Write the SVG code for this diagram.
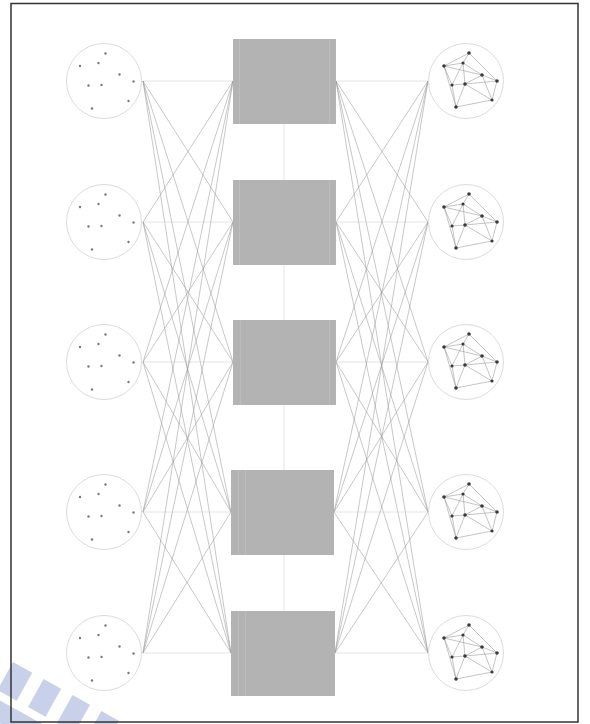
<svg xmlns="http://www.w3.org/2000/svg" width="590" height="724" viewBox="0 0 590 724">
<style>
.ring{fill:none;stroke:#dcdcdc;stroke-width:1}
.ld{fill:#7a7a7a}
.rd{fill:#3a3a3a}
.ge{stroke:#8a8a8a;stroke-width:0.5;fill:none}
.box{fill:#b3b3b3}
.stripe{fill:#bcbcbc}
.conn line{stroke:#9a9a9a;stroke-width:0.55}
.conn line.h{stroke:#cfcfcf}
.wm{fill:#c9d1ea}
</style>
<defs>
<g id="ldots">
<circle class="ld" cx="1.5" cy="-27.5" r="1.2"/>
<circle class="ld" cx="-24" cy="-15" r="1.2"/>
<circle class="ld" cx="-5.5" cy="-18" r="1.2"/>
<circle class="ld" cx="15.5" cy="-6.5" r="1.2"/>
<circle class="ld" cx="29.5" cy="0.5" r="1.2"/>
<circle class="ld" cx="-15.5" cy="4.5" r="1.2"/>
<circle class="ld" cx="-2.5" cy="4" r="1.2"/>
<circle class="ld" cx="24.5" cy="20" r="1.2"/>
<circle class="ld" cx="-12" cy="27.5" r="1.2"/>
</g>
<g id="rgraph">
<path class="ge" d="M3,-28L-22,-15M3,-28L-3,-18M3,-28L31,0M-22,-15L-3,-18M-22,-15L16,-6M-22,-15L-14,4M-22,-15L-10,26M-3,-18L16,-6M-3,-18L-14,4M-3,-18L-1,3M16,-6L31,0M16,-6L-1,3M16,-6L26,19M31,0L-1,3M31,0L26,19M-14,4L-1,3M-14,4L-10,26M-1,3L26,19M-1,3L-10,26M26,19L-10,26"/>
<circle class="rd" cx="3" cy="-28" r="1.8"/>
<circle class="rd" cx="-22" cy="-15" r="1.8"/>
<circle class="rd" cx="-3" cy="-18" r="1.6"/>
<circle class="rd" cx="16" cy="-6" r="1.8"/>
<circle class="rd" cx="31" cy="0" r="1.8"/>
<circle class="rd" cx="-14" cy="4" r="1.6"/>
<circle class="rd" cx="-1" cy="3" r="1.8"/>
<circle class="rd" cx="26" cy="19" r="1.6"/>
<circle class="rd" cx="-10" cy="26" r="1.8"/>
</g>
</defs>
<rect x="0" y="0" width="590" height="724" fill="#ffffff"/>
<g id="watermark" transform="translate(13,662) rotate(29)">
<rect class="wm" x="-38" y="0" width="22" height="32"/>
<rect class="wm" x="0" y="0" width="22" height="32"/>
<rect class="wm" x="35" y="0" width="20" height="32"/>
<rect class="wm" x="68" y="0" width="20" height="32"/>
<rect class="wm" x="101" y="0" width="20" height="32"/>
<rect class="wm" x="-60" y="40" width="200" height="20"/>
</g>
<g id="connectors" class="conn">
<line x1="284" y1="124" x2="284" y2="611" class="h"/>
<line x1="143" y1="81" x2="233" y2="81" class="h"/>
<line x1="143" y1="81" x2="233" y2="222"/>
<line x1="143" y1="81" x2="233" y2="362"/>
<line x1="143" y1="81" x2="231" y2="512"/>
<line x1="143" y1="81" x2="231" y2="653"/>
<line x1="143" y1="222" x2="233" y2="81"/>
<line x1="143" y1="222" x2="233" y2="222" class="h"/>
<line x1="143" y1="222" x2="233" y2="362"/>
<line x1="143" y1="222" x2="231" y2="512"/>
<line x1="143" y1="222" x2="231" y2="653"/>
<line x1="143" y1="362" x2="233" y2="81"/>
<line x1="143" y1="362" x2="233" y2="222"/>
<line x1="143" y1="362" x2="233" y2="362" class="h"/>
<line x1="143" y1="362" x2="231" y2="512"/>
<line x1="143" y1="362" x2="231" y2="653"/>
<line x1="143" y1="512" x2="233" y2="81"/>
<line x1="143" y1="512" x2="233" y2="222"/>
<line x1="143" y1="512" x2="233" y2="362"/>
<line x1="143" y1="512" x2="231" y2="512" class="h"/>
<line x1="143" y1="512" x2="231" y2="653"/>
<line x1="143" y1="653" x2="233" y2="81"/>
<line x1="143" y1="653" x2="233" y2="222"/>
<line x1="143" y1="653" x2="233" y2="362"/>
<line x1="143" y1="653" x2="231" y2="512"/>
<line x1="143" y1="653" x2="231" y2="653" class="h"/>
<line x1="336" y1="81" x2="428" y2="81" class="h"/>
<line x1="336" y1="81" x2="428" y2="222"/>
<line x1="336" y1="81" x2="428" y2="362"/>
<line x1="336" y1="81" x2="428" y2="512"/>
<line x1="336" y1="81" x2="428" y2="653"/>
<line x1="336" y1="222" x2="428" y2="81"/>
<line x1="336" y1="222" x2="428" y2="222" class="h"/>
<line x1="336" y1="222" x2="428" y2="362"/>
<line x1="336" y1="222" x2="428" y2="512"/>
<line x1="336" y1="222" x2="428" y2="653"/>
<line x1="336" y1="362" x2="428" y2="81"/>
<line x1="336" y1="362" x2="428" y2="222"/>
<line x1="336" y1="362" x2="428" y2="362" class="h"/>
<line x1="336" y1="362" x2="428" y2="512"/>
<line x1="336" y1="362" x2="428" y2="653"/>
<line x1="334" y1="512" x2="428" y2="81"/>
<line x1="334" y1="512" x2="428" y2="222"/>
<line x1="334" y1="512" x2="428" y2="362"/>
<line x1="334" y1="512" x2="428" y2="512" class="h"/>
<line x1="334" y1="512" x2="428" y2="653"/>
<line x1="335" y1="653" x2="428" y2="81"/>
<line x1="335" y1="653" x2="428" y2="222"/>
<line x1="335" y1="653" x2="428" y2="362"/>
<line x1="335" y1="653" x2="428" y2="512"/>
<line x1="335" y1="653" x2="428" y2="653" class="h"/>
</g>
<g id="in1"><circle class="ring" cx="104" cy="81" r="37.5"/><use href="#ldots" transform="translate(104,81)"/></g>
<g id="in2"><circle class="ring" cx="104" cy="222" r="37.5"/><use href="#ldots" transform="translate(104,222)"/></g>
<g id="in3"><circle class="ring" cx="104" cy="362" r="37.5"/><use href="#ldots" transform="translate(104,362)"/></g>
<g id="in4"><circle class="ring" cx="104" cy="512" r="37.5"/><use href="#ldots" transform="translate(104,512)"/></g>
<g id="in5"><circle class="ring" cx="104" cy="653" r="37.5"/><use href="#ldots" transform="translate(104,653)"/></g>
<g id="box1"><rect class="box" x="233" y="39" width="103" height="85"/><rect class="stripe" x="239" y="39" width="1" height="85"/><rect class="stripe" x="329" y="39" width="1" height="85"/></g>
<g id="box2"><rect class="box" x="233" y="180" width="103" height="85"/><rect class="stripe" x="239" y="180" width="1" height="85"/><rect class="stripe" x="329" y="180" width="1" height="85"/></g>
<g id="box3"><rect class="box" x="233" y="320" width="103" height="85"/><rect class="stripe" x="240" y="320" width="1" height="85"/><rect class="stripe" x="329" y="320" width="1" height="85"/></g>
<g id="box4"><rect class="box" x="231" y="470" width="103" height="85"/><rect class="stripe" x="238" y="470" width="1" height="85"/><rect class="stripe" x="245" y="470" width="1" height="85"/></g>
<g id="box5"><rect class="box" x="231" y="611" width="104" height="85"/><rect class="stripe" x="238" y="611" width="1" height="85"/><rect class="stripe" x="245" y="611" width="1" height="85"/></g>
<g id="out1"><circle class="ring" cx="466" cy="81" r="37.5"/><use href="#rgraph" transform="translate(466,81)"/></g>
<g id="out2"><circle class="ring" cx="466" cy="222" r="37.5"/><use href="#rgraph" transform="translate(466,222)"/></g>
<g id="out3"><circle class="ring" cx="466" cy="362" r="37.5"/><use href="#rgraph" transform="translate(466,362)"/></g>
<g id="out4"><circle class="ring" cx="466" cy="512" r="37.5"/><use href="#rgraph" transform="translate(466,512)"/></g>
<g id="out5"><circle class="ring" cx="466" cy="653" r="37.5"/><use href="#rgraph" transform="translate(466,653)"/></g>
<rect id="frame" x="11" y="3.5" width="567" height="718.5" fill="none" stroke="#333333" stroke-width="1.5"/>
</svg>
